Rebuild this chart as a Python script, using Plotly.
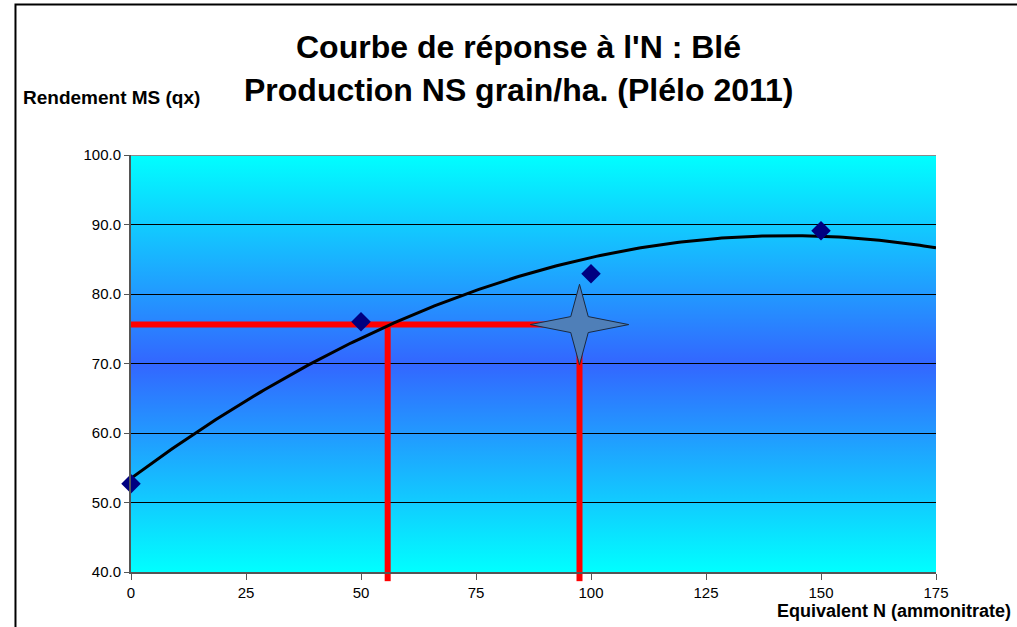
import base64
import numpy as np
import plotly.graph_objects as go

# ---- data ----
n_dose = [0, 50, 100, 150]
rendement = [52.7, 76.0, 82.9, 89.1]
x_ticks = [0, 25, 50, 75, 100, 125, 150, 175]
y_ticks = [40, 50, 60, 70, 80, 90, 100]
y_tick_labels = ["40.0", "50.0", "60.0", "70.0", "80.0", "90.0", "100.0"]
red_level = 75.6          # rendement lu
red_x_left = 55.8         # dose
star_point = [97.5, 75.6]  # étoile

X_MIN, X_MAX = 0, 175
Y_MIN, Y_MAX = 40, 100

# polynomial (degree 2) trend line fitted to the points, as Excel does
coef = np.polyfit(n_dose, rendement, 2)
xs = np.linspace(X_MIN, X_MAX, 200)
ys = np.polyval(coef, xs)

FONT = "Liberation Sans, Arial, sans-serif"

fig = go.Figure()

# trend curve
fig.add_trace(go.Scatter(x=xs, y=ys, mode="lines",
                         line=dict(color="black", width=3), hoverinfo="skip"))
# data points
fig.add_trace(go.Scatter(x=n_dose, y=rendement, mode="markers",
                         marker=dict(symbol="diamond", size=15, color="#000080",
                                     line=dict(width=0)), cliponaxis=False))
# star (4-pointed) around star_point
sx, sy = star_point
rx, ry = 10.7, 5.8   # tip half-sizes (data units)
ix, iy = 1.9, 1.15   # inner half-sizes
star_x = [sx + rx, sx + ix, sx, sx - ix, sx - rx, sx - ix, sx, sx + ix, sx + rx]
star_y = [sy, sy + iy, sy + ry, sy + iy, sy, sy - iy, sy - ry, sy - iy, sy]
fig.add_trace(go.Scatter(x=star_x, y=star_y, mode="lines", fill="toself",
                         fillcolor="#4F7FB8", line=dict(color="#1a2a40", width=1),
                         hoverinfo="skip"))

# background vertical gradient (SVG image): cyan -> blue (centre) -> cyan
svg = ("<svg xmlns='http://www.w3.org/2000/svg' width='10' height='100' viewBox='0 0 10 100' "
       "preserveAspectRatio='none'><defs><linearGradient id='g' x1='0' y1='0' x2='0' y2='1'>"
       "<stop offset='0' stop-color='#00FFFF'/><stop offset='0.5' stop-color='#3366FF'/>"
       "<stop offset='1' stop-color='#00FFFF'/></linearGradient></defs>"
       "<rect x='0' y='0' width='10' height='100' fill='url(#g)'/></svg>")
svg_uri = "data:image/svg+xml;base64," + base64.b64encode(svg.encode()).decode()
images = [dict(source=svg_uri, xref="x", yref="y", x=X_MIN, y=Y_MAX,
               sizex=X_MAX - X_MIN, sizey=Y_MAX - Y_MIN, sizing="stretch",
               xanchor="left", yanchor="top", layer="below")]

shapes = []
# top border of plot (grey)
shapes.append(dict(type="line", xref="x", yref="y", x0=X_MIN, x1=X_MAX, y0=Y_MAX, y1=Y_MAX,
                   line=dict(color="#8a8a8a", width=2), layer="between"))

# red reading lines
shapes.append(dict(type="line", xref="x", yref="y", x0=X_MIN, x1=star_point[0],
                   y0=red_level, y1=red_level, line=dict(color="#FF0000", width=6),
                   layer="between"))
for xv in [red_x_left, star_point[0]]:
    shapes.append(dict(type="line", xref="x", yref="y", x0=xv, x1=xv,
                       y0=Y_MIN, y1=red_level, line=dict(color="#FF0000", width=6),
                       layer="between"))
    # small extension below the x axis
    shapes.append(dict(type="line", xref="x", yref="paper", x0=xv, x1=xv,
                       y0=-0.022, y1=0, line=dict(color="#FF0000", width=6),
                       layer="between"))

# outer chart frame (top and left)
shapes.append(dict(type="path", xref="paper", yref="paper",
                   path="M -0.1435 -0.2 L -0.1435 1.361 L 1.2 1.361",
                   line=dict(color="black", width=2)))

annotations = [
    dict(text="<b>Courbe de réponse à l'N : Blé</b>", xref="paper", yref="paper",
         x=0.481, y=1.259, xanchor="center", yanchor="middle", showarrow=False,
         font=dict(family=FONT, size=32, color="black")),
    dict(text="<b>Production NS grain/ha. (Plélo 2011)</b>", xref="paper", yref="paper",
         x=0.481, y=1.156, xanchor="center", yanchor="middle", showarrow=False,
         font=dict(family=FONT, size=32, color="black")),
    dict(text="<b>Rendement MS (qx)</b>", xref="paper", yref="paper",
         x=-0.1366, y=1.139, xanchor="left", yanchor="middle", showarrow=False,
         font=dict(family=FONT, size=19, color="black")),
    dict(text="<b>Equivalent N (ammonitrate)</b>", xref="paper", yref="paper",
         x=1.0957, y=-0.093, xanchor="right", yanchor="middle", showarrow=False,
         font=dict(family=FONT, size=18, color="black")),
]

fig.update_layout(
    width=1017, height=627,
    margin=dict(l=131, r=81, t=155, b=55),
    paper_bgcolor="white", plot_bgcolor="white",
    showlegend=False,
    shapes=shapes, annotations=annotations, images=images,
    font=dict(family=FONT, color="black"),
    xaxis=dict(range=[X_MIN, X_MAX], tickvals=x_ticks, showgrid=False, zeroline=False,
               showline=True, linecolor="#555555", linewidth=2, ticks="outside",
               ticklen=6, tickcolor="#555555", tickfont=dict(size=15, family=FONT),
               fixedrange=True),
    yaxis=dict(range=[Y_MIN, Y_MAX], tickvals=y_ticks, ticktext=y_tick_labels,
               showgrid=True, gridcolor="black", gridwidth=1, zeroline=False,
               showline=True, linecolor="#555555", linewidth=2, ticks="outside",
               ticklen=5, tickcolor="#555555", tickfont=dict(size=15, family=FONT),
               fixedrange=True),
)

fig.write_html("out.html", config={"displayModeBar": False},
               post_script="document.body.style.margin='0px';")
